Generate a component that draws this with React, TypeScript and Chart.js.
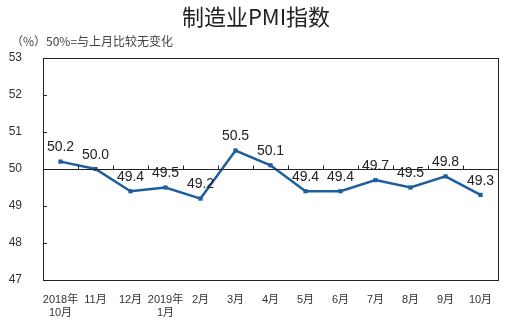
import React, { useEffect, useRef } from "react";
import { Chart, registerables } from "chart.js";

Chart.register(...registerables);

const categories: (string | string[])[] = [
  ["2018年", "10月"], "11月", "12月", ["2019年", "1月"], "2月", "3月", "4月",
  "5月", "6月", "7月", "8月", "9月", "10月",
];
const pmiValues: number[] = [50.2, 50.0, 49.4, 49.5, 49.2, 50.5, 50.1, 49.4, 49.4, 49.7, 49.5, 49.8, 49.3];
const yTicks: number[] = [47, 48, 49, 50, 51, 52, 53];
const titleText = "制造业PMI指数";
const subtitleText = "（%）50%=与上月比较无变化";
const baseline = 50;

const LABEL_FONT = '"Liberation Sans", "Noto Sans CJK SC", sans-serif';

const framePlugin = {
  id: "frame",
  afterDatasetsDraw(chart: any) {
    const { ctx, chartArea, scales } = chart;
    const x = scales.x;
    const y = scales.y;
    ctx.save();
    ctx.strokeStyle = "#222";
    ctx.lineWidth = 1;
    ctx.strokeRect(Math.round(chartArea.left) + 0.5, Math.round(chartArea.top) + 0.5,
      Math.round(chartArea.right - chartArea.left), Math.round(chartArea.bottom - chartArea.top));
    const by = Math.round(y.getPixelForValue(baseline)) + 0.5;
    ctx.beginPath();
    ctx.moveTo(chartArea.left, by);
    ctx.lineTo(chartArea.right, by);
    const step = x.getPixelForValue(1) - x.getPixelForValue(0);
    for (let i = 0; i < categories.length - 1; i++) {
      const bx = Math.round(x.getPixelForValue(i) + step / 2) + 0.5;
      ctx.moveTo(bx, by);
      ctx.lineTo(bx, by - 4);
    }
    yTicks.forEach((v) => {
      if (v === yTicks[0] || v === yTicks[yTicks.length - 1] || v === baseline) return;
      const ty = Math.round(y.getPixelForValue(v)) + 0.5;
      ctx.moveTo(chartArea.left, ty);
      ctx.lineTo(chartArea.left + 4, ty);
    });
    ctx.stroke();
    ctx.restore();
  },
  afterDraw(chart: any) {
    const { ctx } = chart;
    const meta = chart.getDatasetMeta(0);
    ctx.save();
    ctx.fillStyle = "#222";
    ctx.font = '14px "Liberation Sans", Arial, sans-serif';
    ctx.textAlign = "center";
    ctx.textBaseline = "bottom";
    meta.data.forEach((pt: any, i: number) => {
      ctx.fillText(pmiValues[i].toFixed(1), pt.x, pt.y - 7);
    });
    ctx.fillStyle = "#222";
    ctx.font = '22px "Noto Sans CJK SC", "Liberation Sans", sans-serif';
    ctx.textAlign = "center";
    ctx.textBaseline = "middle";
    ctx.fillText(titleText, 256, 17);
    ctx.fillStyle = "#444";
    ctx.font = '12px "Noto Sans CJK SC", "Liberation Sans", sans-serif';
    ctx.textAlign = "left";
    ctx.fillText(subtitleText, 11, 41);
    ctx.restore();
  },
};

export default function App() {
  const ref = useRef<HTMLCanvasElement | null>(null);
  useEffect(() => {
    if (!ref.current) return;
    const chart = new Chart(ref.current, {
      type: "line",
      data: {
        labels: categories,
        datasets: [
          {
            data: pmiValues,
            borderColor: "#1F5E9E",
            backgroundColor: "#1F5E9E",
            borderWidth: 2.5,
            pointStyle: "rect",
            pointRadius: 3,
            pointBorderWidth: 0,
            tension: 0,
          },
        ],
      },
      options: {
        animation: false,
        responsive: false,
        layout: { padding: { left: 0, right: 25, top: 58, bottom: 0 } },
        plugins: { legend: { display: false }, tooltip: { enabled: false } },
        scales: {
          x: {
            type: "category",
            offset: true,
            grid: { display: false },
            border: { display: false },
            ticks: {
              color: "#333",
              font: { size: 11, family: LABEL_FONT, lineHeight: 1.2 },
              padding: 5,
              maxRotation: 0,
              autoSkip: false,
            },
            afterFit(scale: any) {
              scale.height = 43;
            },
          },
          y: {
            min: 47,
            max: 53,
            afterBuildTicks(scale: any) {
              scale.ticks = yTicks.map((v) => ({ value: v }));
            },
            grid: { display: false },
            border: { display: false },
            ticks: {
              color: "#333",
              font: { size: 12, family: LABEL_FONT },
              padding: 13,
            },
            afterFit(scale: any) {
              scale.width = 43;
            },
          },
        },
      },
      plugins: [framePlugin],
    });
    return () => chart.destroy();
  }, []);
  return (
    <div style={{ position: "fixed", left: 0, top: 0, width: 523, height: 323, background: "#fff" }}>
      <canvas ref={ref} width={523} height={323} style={{ width: 523, height: 323 }} />
    </div>
  );
}
